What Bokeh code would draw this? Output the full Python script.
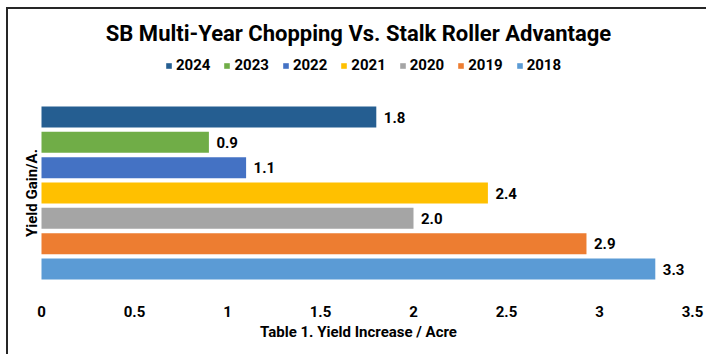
import math
from bokeh.plotting import figure
from bokeh.models import ColumnDataSource, Range1d, FixedTicker, Legend, LegendItem, Label
from bokeh.core.properties import value
from bokeh.embed import file_html
from bokeh.resources import INLINE

# ---- data ----
years = ["2024", "2023", "2022", "2021", "2020", "2019", "2018"]
gains = [1.8, 0.9, 1.1, 2.4, 2.0, 2.93, 3.3]
colors = ["#255E91", "#70AD47", "#4472C4", "#FFC000", "#A5A5A5", "#ED7D31", "#5B9BD5"]
ticks = [0, 0.5, 1, 1.5, 2, 2.5, 3, 3.5]
tick_labels = ["0", "0.5", "1", "1.5", "2", "2.5", "3", "3.5"]
title_text = "SB Multi-Year Chopping Vs. Stalk Roller Advantage"
x_title = "Table 1. Yield Increase / Acre"
y_title = "Yield Gain/A."

# ---- layout constants (pixels) ----
CX0, CY0 = 8, 9            # page position of canvas origin (after margin + border)
W, H = 708 - CX0, 356 - CY0
PX = 186.0                 # px per unit on x
ZERO_X = 41                # page x of value 0
FRAME_TOP = 40             # canvas y of frame top
FRAME_BOTTOM = 281 - CY0   # canvas y of frame bottom
PITCH = 25.33              # px per category
BOTTOM_GAP = 12.5          # px between frame bottom and lowest bar centre

FONT = "Roboto"

n = len(years)
pos = [n - 1 - i for i in range(n)]
labels = ["{:.1f}".format(g) for g in gains]

src = ColumnDataSource(dict(year=years, gain=gains, pos=pos, color=colors, label=labels))

x_start = (CX0 - ZERO_X) / PX
x_end = x_start + W / PX
y_start = -BOTTOM_GAP / PITCH
y_end = y_start + (FRAME_BOTTOM - FRAME_TOP) / PITCH

p = figure(width=W, height=H, x_range=Range1d(x_start, x_end), y_range=Range1d(y_start, y_end),
           output_backend="svg", toolbar_location=None, y_axis_location=None,
           min_border_left=0, min_border_right=0, min_border_top=FRAME_TOP,
           min_border_bottom=H - FRAME_BOTTOM, title=title_text)
p.styles = {"margin-left": "6px", "margin-top": "7px",
            "border-left": "2px solid #262626", "border-top": "2px solid #262626"}

p.title.text_font = FONT
p.title.text_font_size = "22px"
p.title.text_font_style = "bold"
p.title.text_color = "#000000"
p.title.align = "center"
p.title.standoff = 7

p.outline_line_color = None
p.xgrid.visible = False
p.ygrid.visible = False

bars = p.hbar(y="pos", left=0, right="gain", height=21 / PITCH, color="color", line_color=None, source=src)

p.text(x="gain", y="pos", text="label", source=src, x_offset=7.5, text_align="left",
       text_baseline="middle", text_font=value(FONT), text_font_size="15px",
       text_font_style="bold", text_color="#000000")

ax = p.xaxis[0]
ax.ticker = FixedTicker(ticks=ticks)
ax.major_label_overrides = {t: l for t, l in zip(ticks, tick_labels)}
ax.axis_line_color = None
ax.major_tick_line_color = None
ax.minor_tick_line_color = None
ax.major_tick_out = 0
ax.major_label_standoff = 24
ax.major_label_text_font = FONT
ax.major_label_text_font_size = "15px"
ax.major_label_text_font_style = "bold"
ax.major_label_text_color = "#000000"
ax.axis_label = x_title
ax.axis_label_standoff = 3
ax.axis_label_text_font = FONT
ax.axis_label_text_font_size = "15px"
ax.axis_label_text_font_style = "bold"
ax.axis_label_text_color = "#000000"

items = [LegendItem(label=years[i], renderers=[bars], index=i) for i in range(n)]
LEG_H = 16
legend = Legend(items=items, orientation="horizontal",
                location=(165 - CX0, (FRAME_BOTTOM - (65.5 - CY0)) - LEG_H / 2 - 0.5),
                glyph_width=7, glyph_height=7, label_standoff=4, spacing=13,
                padding=0, margin=0, border_line_color=None, background_fill_alpha=0,
                label_height=LEG_H, label_text_font=FONT, label_text_font_size="15px",
                label_text_font_style="bold", label_text_color="#000000",
                label_text_baseline="middle")
p.add_layout(legend)

ylab = Label(x=(31 - ZERO_X) / PX, y=(n - 1) / 2, text=y_title, angle=math.pi / 2,
             text_align="center", text_baseline="middle", text_font=FONT,
             text_font_size="15px", text_font_style="bold", text_color="#000000")
p.add_layout(ylab)

open("out.html", "w").write(file_html(p, INLINE))
